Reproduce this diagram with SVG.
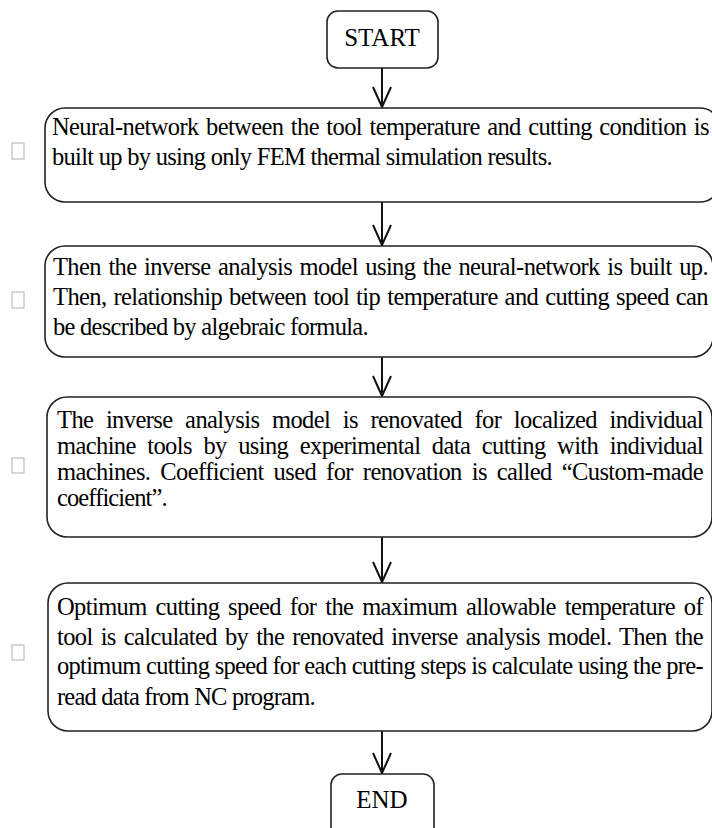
<svg xmlns="http://www.w3.org/2000/svg" width="712" height="828" viewBox="0 0 712 828">
<style>
.box{fill:#fff;stroke:#222;stroke-width:1.6}
.t{font-family:"Liberation Serif","Times New Roman",serif;font-size:24.5px;fill:#000;letter-spacing:-0.6px}
.c{font-family:"Liberation Serif","Times New Roman",serif;font-size:25px;fill:#000;text-anchor:middle}
.sq{fill:#fff;stroke:#b0b0b0;stroke-width:1}
.cn{stroke:#111;stroke-width:2;fill:none}
</style>
<defs>
<marker id="arr" viewBox="0 0 22 20" refX="21" refY="10" markerWidth="22" markerHeight="20" markerUnits="userSpaceOnUse" orient="auto">
<path d="M1,1 L21,10 L1,19" fill="none" stroke="#111" stroke-width="2"/>
</marker>
</defs>
<rect width="712" height="828" fill="#fff"/>
<g id="connectors">
<line class="cn" x1="382" y1="68" x2="382" y2="107" marker-end="url(#arr)"/>
<line class="cn" x1="382" y1="202" x2="382" y2="245" marker-end="url(#arr)"/>
<line class="cn" x1="382" y1="357" x2="382" y2="396" marker-end="url(#arr)"/>
<line class="cn" x1="382" y1="537" x2="382" y2="582" marker-end="url(#arr)"/>
<line class="cn" x1="382" y1="731" x2="382" y2="773" marker-end="url(#arr)"/>
</g>
<g id="start">
<rect class="box" x="327" y="11" width="111" height="57" rx="11"/>
<text class="c" x="382" y="46">START</text>
</g>
<g id="step1">
<rect class="sq" x="12" y="143" width="12" height="16"/>
<rect class="box" x="45" y="108" width="675" height="94" rx="20"/>
<text class="t" x="52" y="135" word-spacing="1.9" textLength="657" lengthAdjust="spacing">Neural-network between the tool temperature and cutting condition is</text>
<text class="t" x="52" y="165" textLength="500" lengthAdjust="spacing">built up by using only FEM thermal simulation results.</text>
</g>
<g id="step2">
<rect class="sq" x="12" y="292" width="12" height="16"/>
<rect class="box" x="45" y="246" width="668" height="111" rx="20"/>
<text class="t" x="53" y="275" word-spacing="1.9" textLength="655" lengthAdjust="spacing">Then the inverse analysis model using the neural-network is built up.</text>
<text class="t" x="53" y="305" word-spacing="1.4" textLength="655" lengthAdjust="spacing">Then, relationship between tool tip temperature and cutting speed can</text>
<text class="t" x="53" y="335" textLength="315" lengthAdjust="spacing">be described by algebraic formula.</text>
</g>
<g id="step3">
<rect class="sq" x="12" y="458" width="12" height="15"/>
<rect class="box" x="47" y="397" width="665" height="140" rx="20"/>
<text class="t" x="57" y="428" word-spacing="7" textLength="646" lengthAdjust="spacing">The inverse analysis model is renovated for localized individual</text>
<text class="t" x="57" y="454" word-spacing="6" textLength="646" lengthAdjust="spacing">machine tools by using experimental data cutting with individual</text>
<text class="t" x="57" y="480" word-spacing="4.4" textLength="646" lengthAdjust="spacing">machines. Coefficient used for renovation is called “Custom-made</text>
<text class="t" x="57" y="506" textLength="110" lengthAdjust="spacing">coefficient”.</text>
</g>
<g id="step4">
<rect class="sq" x="12" y="645" width="12" height="15"/>
<rect class="box" x="48" y="583" width="664" height="148" rx="20"/>
<text class="t" x="57" y="615" word-spacing="3.3" textLength="646" lengthAdjust="spacing">Optimum cutting speed for the maximum allowable temperature of</text>
<text class="t" x="57" y="645" word-spacing="2.4" textLength="646" lengthAdjust="spacing">tool is calculated by the renovated inverse analysis model. Then the</text>
<text class="t" x="57" y="674" textLength="646" lengthAdjust="spacing">optimum cutting speed for each cutting steps is calculate using the pre-</text>
<text class="t" x="57" y="705" textLength="258" lengthAdjust="spacing">read data from NC program.</text>
</g>
<g id="end">
<rect class="box" x="331" y="774" width="103" height="70" rx="11"/>
<text class="c" x="382" y="808">END</text>
</g>
</svg>
